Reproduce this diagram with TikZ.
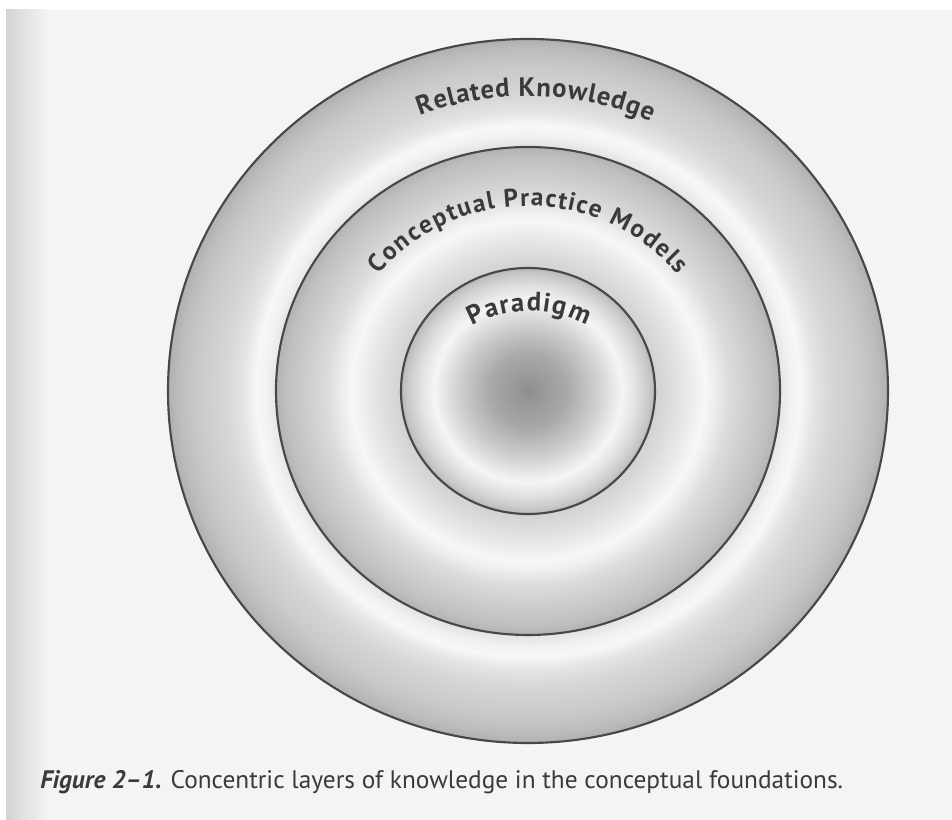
\documentclass[tikz,border=0pt]{standalone}
\usepackage{fontspec}
\setmainfont{PT Sans}
\usetikzlibrary{calc,decorations.text}

\definecolor{ink}{HTML}{3A3A3A}
\definecolor{rim}{HTML}{484848}
\definecolor{paper}{HTML}{F4F4F4}

% radial fills for the three layers (25bp = rim of each layer)
\pgfdeclareradialshading{outerlayer}{\pgfpointorigin}{%
  color(0bp)=(black!10); color(17.5bp)=(black!10); color(18.25bp)=(black!5);
  color(18.9bp)=(black!3); color(19.75bp)=(black!10); color(21bp)=(black!16);
  color(23bp)=(black!21); color(24.25bp)=(black!26); color(25bp)=(black!31);
  color(50bp)=(black!31)}
\pgfdeclareradialshading{middlelayer}{\pgfpointorigin}{%
  color(0bp)=(black!18); color(12.5bp)=(black!18); color(14bp)=(black!14);
  color(16bp)=(black!8); color(17.5bp)=(black!3); color(18.5bp)=(black!7);
  color(20bp)=(black!14); color(22.5bp)=(black!21); color(24bp)=(black!25);
  color(25bp)=(black!30); color(50bp)=(black!30)}
\pgfdeclareradialshading{innerlayer}{\pgfpointorigin}{%
  color(0bp)=(black!44); color(7.5bp)=(black!34); color(13.5bp)=(black!19);
  color(18.5bp)=(black!4); color(21bp)=(black!11); color(23.75bp)=(black!21);
  color(25bp)=(black!28); color(50bp)=(black!28)}

\tikzset{
  layerrim/.style={draw=rim, line width=1.6pt},
  % letters spread evenly along an arc
  ringtext/.style 2 args={decorate, decoration={text effects along path,
      text={#2}, text effects/.cd, text along path, fit text to path,
      characters={text=ink, inner sep=0pt, font=\fontsize{#1}{#1}\selectfont\bfseries}}},
}

\begin{document}
\begin{tikzpicture}[x=0.75pt, y=0.75pt]
  \useasboundingbox (0,0) rectangle (952,820);
  % page
  \fill[white] (0,0) rectangle (952,820);
  \fill[paper] (6,0) rectangle (952,810);
  \shade[left color=black!17, right color=paper] (6,0) rectangle (48,810);

  \coordinate (C) at (528,429);
  \coordinate (P) at (529,389);

  % layers
  \path[shading=outerlayer] (C) ellipse [x radius=360, y radius=352];
  \path[layerrim] (C) ellipse [x radius=360, y radius=352];
  \path[shading=middlelayer] (C) ellipse [x radius=252, y radius=244];
  \path[layerrim] (C) ellipse [x radius=252, y radius=244];
  \path[shading=innerlayer] (C) ellipse [x radius=127, y radius=123];
  \path[layerrim] (C) ellipse [x radius=127, y radius=123];

  % curved labels
  \path[ringtext={20}{Related Knowledge}]
    ($(C)+(111:302 and 295)$) arc[start angle=111, end angle=66, x radius=302, y radius=295];
  \path[ringtext={19}{Conceptual Practice Models}]
    ($(C)+(141:192 and 185)$) arc[start angle=141, end angle=39, x radius=192, y radius=185];
  \path[ringtext={20}{Paradigm}]
    ($(P)+(118.5:120)$) arc[start angle=118.5, end angle=61.5, radius=120];

  % caption
  \node[anchor=base west, inner sep=0pt, text=ink, font=\fontsize{19}{21}\selectfont] (cap)
    at (40,31) {\textbf{\textit{Figure 2--1.}} Concentric layers of knowledge in the conceptual foundations.};
\end{tikzpicture}
\end{document}
